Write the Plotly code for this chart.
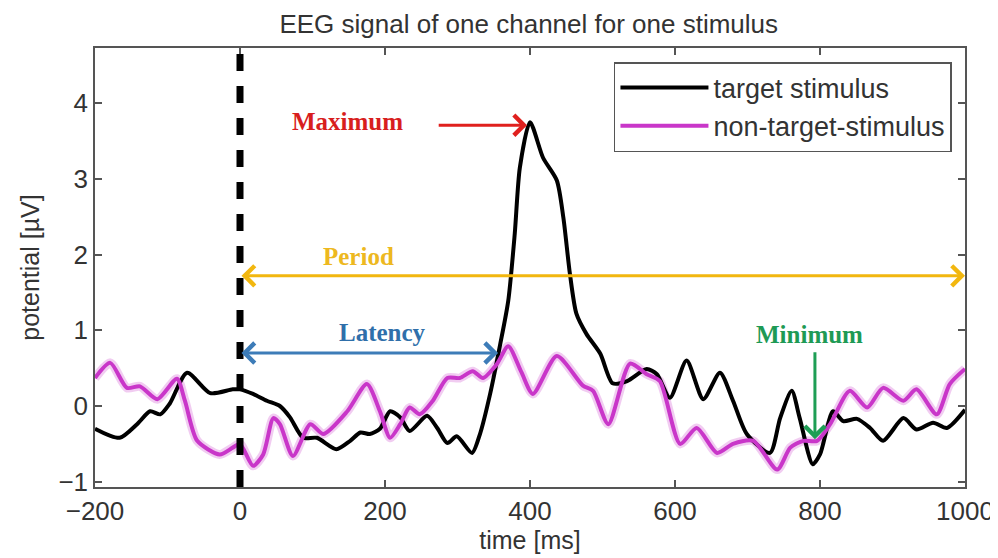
import plotly.graph_objects as go

# ---------------- data ----------------
target_t = [-200, -166, -142, -124, -110, -97, -73, -41, -10, 0, 18, 37, 55, 69, 87, 106, 133, 152,
            166, 179, 193, 207, 221, 234, 258, 272, 286, 299, 320, 331, 345, 359, 370, 379, 386, 400,
            418, 437, 446, 455, 464, 478, 497, 514, 534, 561, 575, 593, 616, 639, 662, 680, 699, 731,
            745, 761, 772, 790, 800, 818, 832, 851, 869, 887, 915, 933, 956, 975, 1000]
target_v = [-0.30, -0.42, -0.24, -0.07, -0.11, 0.03, 0.44, 0.17, 0.22, 0.22, 0.16, 0.07, 0.0, -0.15,
            -0.42, -0.42, -0.57, -0.46, -0.35, -0.37, -0.30, -0.07, -0.15, -0.33, -0.13, -0.29, -0.49,
            -0.40, -0.62, -0.37, 0.16, 0.82, 1.39, 2.28, 3.15, 3.75, 3.28, 2.98, 2.49, 1.75, 1.22, 0.95,
            0.69, 0.30, 0.33, 0.49, 0.42, 0.11, 0.60, 0.09, 0.44, 0.07, -0.37, -0.62, -0.16, 0.20, -0.16,
            -0.77, -0.64, -0.07, -0.20, -0.17, -0.29, -0.46, -0.16, -0.31, -0.22, -0.29, -0.05]

nontarget_t = [-200, -179, -156, -138, -114, -87, -76, -59, -28, -10, 0, 18, 32, 46, 55, 73, 97, 115,
               148, 175, 193, 207, 221, 234, 248, 266, 286, 303, 321, 335, 354, 370, 388, 404, 437, 473,
               487, 508, 538, 561, 579, 607, 630, 658, 680, 708, 741, 759, 777, 796, 814, 841, 865, 887,
               915, 933, 961, 979, 1000]
nontarget_v = [0.37, 0.57, 0.24, 0.26, 0.09, 0.36, 0.07, -0.46, -0.64, -0.55, -0.50, -0.79, -0.64,
               -0.16, -0.24, -0.66, -0.24, -0.37, -0.07, 0.29, -0.07, -0.42, -0.24, -0.02, -0.11, 0.07,
               0.37, 0.37, 0.46, 0.37, 0.55, 0.79, 0.45, 0.16, 0.66, 0.27, 0.20, -0.24, 0.56, 0.42, 0.33,
               -0.50, -0.29, -0.62, -0.50, -0.46, -0.84, -0.55, -0.46, -0.46, -0.24, 0.20, -0.02, 0.24,
               0.07, 0.22, -0.11, 0.29, 0.49]

series_names = ["target stimulus", "non-target-stimulus"]
x_ticks = [-200, 0, 200, 400, 600, 800, 1000]
y_ticks = [-1, 0, 1, 2, 3, 4]

# annotation positions (data units)
stim_onset = 0
max_label = ("Maximum", 148, 3.76)
max_arrow = (272, 396, 3.71)
period_label = ("Period", 163, 1.97)
period_arrow = (0, 1000, 1.72)
latency_label = ("Latency", 196, 0.97)
latency_arrow = (0, 356, 0.70)
min_label = ("Minimum", 785, 0.95)
min_arrow = (793, 0.73, -0.44)

TXT = "#333333"
SANS = "Liberation Sans, Arial, sans-serif"
SERIF = "Liberation Serif, Times New Roman, serif"

fig = go.Figure()
fig.add_trace(go.Scatter(x=nontarget_t, y=nontarget_v, mode="lines", showlegend=False, hoverinfo="skip",
                         line=dict(color="rgba(214,110,214,0.35)", width=9, shape="spline", smoothing=0.7)))
fig.add_trace(go.Scatter(x=target_t, y=target_v, mode="lines", name=series_names[0],
                         line=dict(color="black", width=4, shape="spline", smoothing=0.7)))
fig.add_trace(go.Scatter(x=nontarget_t, y=nontarget_v, mode="lines", name=series_names[1],
                         line=dict(color="#C936C9", width=4, shape="spline", smoothing=0.7)))

fig.add_shape(type="line", xref="x", yref="paper", x0=stim_onset, x1=stim_onset, y0=0, y1=1,
              line=dict(color="black", width=7, dash="17px,15px"), layer="above")

def arrow(x, y, ax, ay, color, both=False):
    fig.add_annotation(x=x, y=y, ax=ax, ay=ay, xref="x", yref="y", axref="x", ayref="y",
                       text="", showarrow=True, arrowhead=4, arrowsize=1.3, arrowwidth=3,
                       arrowcolor=color, arrowside="end+start" if both else "end",
                       startarrowhead=4, startarrowsize=1.3, standoff=0, startstandoff=0)

def label(spec, color):
    t, x, y = spec
    fig.add_annotation(x=x, y=y, xref="x", yref="y", text="<b>%s</b>" % t, showarrow=False,
                       font=dict(family=SERIF, size=25, color=color))

arrow(max_arrow[1], max_arrow[2], max_arrow[0], max_arrow[2], "#E0201E")
arrow(period_arrow[1], period_arrow[2], period_arrow[0], period_arrow[2], "#F2B70F", both=True)
arrow(latency_arrow[1], latency_arrow[2], latency_arrow[0], latency_arrow[2], "#3D7CB8", both=True)
arrow(min_arrow[0], min_arrow[2], min_arrow[0], min_arrow[1], "#1E9E55")

label(max_label, "#D81E1E")
label(period_label, "#EDB820")
label(latency_label, "#2F6FAA")
label(min_label, "#1E9A55")

axis_common = dict(showline=True, linecolor="#555555", linewidth=1.5, mirror="ticks",
                   ticks="inside", ticklen=7, tickwidth=1.5, tickcolor="#555555",
                   showgrid=False, zeroline=False, automargin=False,
                   tickfont=dict(family=SANS, size=26, color=TXT))

fig.update_layout(
    width=990, height=550,
    margin=dict(l=87, r=33, t=40, b=71),
    paper_bgcolor="white", plot_bgcolor="white",
    title=dict(text="EEG signal of one channel for one stimulus", x=0.526, xanchor="center",
               y=1 - 16 / 550, yanchor="middle", yref="container",
               font=dict(family=SANS, size=26, color=TXT)),
    xaxis=dict(range=[-200, 1000], tickvals=x_ticks,
               ticktext=[str(v).replace("-", "\u2212") for v in x_ticks],
               title=dict(text="time [ms]", standoff=4, font=dict(family=SANS, size=25, color=TXT)),
               **axis_common),
    yaxis=dict(range=[-1.07, 4.73], tickvals=y_ticks,
               ticktext=[str(v).replace("-", "\u2212") for v in y_ticks],
               title=dict(text="potential [µV]", standoff=12, font=dict(family=SANS, size=25, color=TXT)),
               **axis_common),
    legend=dict(x=0.985, y=0.968, xanchor="right", yanchor="top", bgcolor="white",
                bordercolor="#555555", borderwidth=1.5, itemwidth=88, tracegroupgap=0,
                font=dict(family=SANS, size=27, color=TXT)),
    showlegend=True,
)

fig.write_html("out.html")
